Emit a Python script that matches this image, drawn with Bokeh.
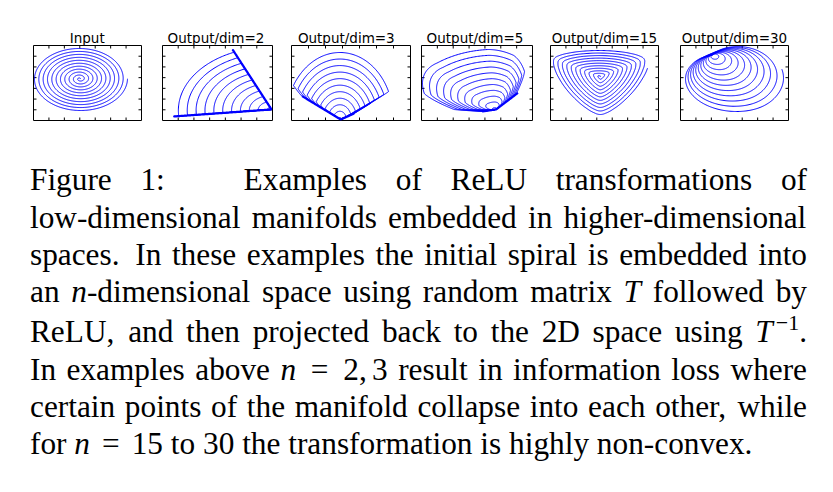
import numpy as np
from bokeh.plotting import figure
from bokeh.models import Range1d, ColumnDataSource
from bokeh.layouts import column, row
from bokeh.core.properties import value
from bokeh.embed import file_html
from bokeh.resources import INLINE

# ---------------- data ----------------
SPIRAL_TURNS = 11
SPIRAL_SAMPLES = 4000
PANEL_TITLES = ["Input", "Output/dim=2", "Output/dim=3", "Output/dim=5",
                "Output/dim=15", "Output/dim=30"]
# rows of the embedding matrix T for each output panel: angle (degrees) and length
ROWS_DIM2 = [204, 96]
ROWS_DIM3 = [60, 115, 75]
SCALE_DIM3 = [1.0, 1.0, 0.7]
ROWS_DIM5 = [40, 90, 130, 160, 185]
ROWS_DIM15 = [0, 15, 30, 45, 60, 120, 135, 150, 165, 180, 240, 255, 270, 285, 300]
ROWS_DIM30 = [-168, -160, -153, -145, -138, -130, -122, -115, -107, -100,
              -92, -84, -77, -69, -62, -54, -46, -39, -31, -24,
              -16, -8, -1, 7, 14, 22, 30, 37, 45, 52]
PANEL_ROWS = [None, ROWS_DIM2, ROWS_DIM3, ROWS_DIM5, ROWS_DIM15, ROWS_DIM30]
PANEL_SCALES = [None, None, SCALE_DIM3, None, None, None]

CAPTION_LINES = [
    "Figure 1: Examples of ReLU transformations of",
    "low-dimensional manifolds embedded in higher-dimensional",
    "spaces. In these examples the initial spiral is embedded into",
    "an $n$-dimensional space using random matrix $T$ followed by",
    "ReLU, and then projected back to the 2D space using $T$^{\u22121}.",
    "In examples above $n$ = 2,~3 result in information loss where",
    "certain points of the manifold collapse into each other, while",
    "for $n$ = 15 to 30 the transformation is highly non-convex.",
]

# ---------------- layout (pixels) ----------------
W, H = 833, 492
BOX_X = [(33, 141), (162, 272), (291, 410), (421, 532), (550, 658), (680, 788)]
BOX_TOP, BOX_BOTTOM = 45, 120
CONTENT = [(34, 127, 48, 110), (173, 271, 49, 116), (293, 388, 52, 119),
           (422, 524, 49, 111), (553, 647, 50, 114), (685, 783, 46, 111)]
FIG_EDGES = [0, 151, 281, 415, 541, 669, 833]
TITLE_X = [86.7, 215.5, 345.8, 474.5, 604, 734]
TITLE_BASE = 41
TITLE_FS = 13.5
PANEL_BOTTOM_BORDER = 8
TICK_LEN = 3
FS = 31.3
LINE_BASE = [188.5, 225.8, 263.1, 300.4, 340.5, 377.8, 415.1, 452.4]
BASELINE_FIX = 0.29   # em; compensates the renderer's baseline placement
TEXT_L, TEXT_R = 29.5, 806.5
BLUE = "#0000ff"


def spiral():
    t = np.linspace(0.0, 1.0, SPIRAL_SAMPLES)
    th = 2 * np.pi * SPIRAL_TURNS * t
    return np.column_stack([t * np.cos(th), t * np.sin(th)])


def relu_roundtrip(X, angles, scales):
    a = np.radians(np.array(angles, dtype=float))
    s = np.ones(len(angles)) if scales is None else np.array(scales, dtype=float)
    T = np.column_stack([np.cos(a), np.sin(a)]) * s[:, None]
    Z = X @ T.T
    Y = np.maximum(Z, 0.0)
    active = (Z > 0).sum(axis=1)
    return Y @ np.linalg.pinv(T).T, active


panels = []
base = spiral()
for i in range(6):
    if PANEL_ROWS[i] is None:
        X, active = base, np.full(len(base), 99)
    else:
        X, active = relu_roundtrip(base, PANEL_ROWS[i], PANEL_SCALES[i])
    xs, ys = X[:, 0], X[:, 1]
    bl, br = BOX_X[i]
    cl, cr, ct, cb = CONTENT[i]
    xmin, xmax, ymin, ymax = xs.min(), xs.max(), ys.min(), ys.max()
    sx = (cr - cl) / (xmax - xmin)
    sy = (cb - ct) / (ymax - ymin)
    x0, x1 = xmin - (cl - bl) / sx, xmax + (br - cr) / sx
    y1, y0 = ymax + (ct - BOX_TOP) / sy, ymin - (BOX_BOTTOM - cb) / sy
    fl, fr = FIG_EDGES[i], FIG_EDGES[i + 1]
    p = figure(width=fr - fl, height=BOX_BOTTOM - BOX_TOP + PANEL_BOTTOM_BORDER,
               x_range=Range1d(x0, x1), y_range=Range1d(y0, y1),
               output_backend="svg", toolbar_location=None, title=None,
               x_axis_location=None, y_axis_location=None,
               min_border_left=bl - fl, min_border_right=fr - br,
               min_border_top=0, min_border_bottom=PANEL_BOTTOM_BORDER)
    p.grid.visible = False
    p.outline_line_color = "black"
    p.outline_line_width = 1
    p.background_fill_color = "white"
    p.border_fill_color = "white"
    # tick marks pointing inwards on all four sides
    dx = (x1 - x0) / (br - bl) * TICK_LEN
    dy = (y1 - y0) / (BOX_BOTTOM - BOX_TOP) * TICK_LEN
    xt = [x0 + (x1 - x0) * k / 7 for k in range(1, 7)]
    yt = [y0 + (y1 - y0) * k / 7 for k in range(1, 7)]
    tx0 = xt + xt + [x0] * 6 + [x1] * 6
    tx1 = xt + xt + [x0 + dx] * 6 + [x1 - dx] * 6
    ty0 = [y0] * 6 + [y1] * 6 + yt + yt
    ty1 = [y0 + dy] * 6 + [y1 - dy] * 6 + yt + yt
    p.segment(x0=tx0, y0=ty0, x1=tx1, y1=ty1, line_color="black", line_width=1)
    p.line(xs, ys, line_color=BLUE, line_width=1.0)
    if PANEL_ROWS[i] is not None:
        collapsed = active <= 1
        p.line(np.where(collapsed, xs, np.nan), np.where(collapsed, ys, np.nan),
               line_color=BLUE, line_width=2.2)
    panels.append(p)

# ---------------- titles ----------------
TITLE_H = BOX_TOP
tfig = figure(width=W, height=TITLE_H, x_range=Range1d(0, W), y_range=Range1d(TITLE_H, 0),
              output_backend="svg", toolbar_location=None, title=None,
              x_axis_location=None, y_axis_location=None, min_border=0)
tfig.grid.visible = False
tfig.outline_line_color = None
tfig.text(x=TITLE_X, y=[TITLE_BASE - BASELINE_FIX * TITLE_FS] * 6, text=PANEL_TITLES,
          text_font=value("DejaVu Sans"), text_font_size=value(f"{TITLE_FS}px"),
          text_align="center", text_baseline="alphabetic", text_color="black")

# ---------------- caption ----------------
ROMAN = {' ': 250, '!': 333, ',': 250, '-': 333, '.': 250, ':': 278, '=': 564,
         '\u2212': 564}
for d in "0123456789":
    ROMAN[d] = 500
ROMAN.update(dict(zip("ABCDEFGHIJKLMNOPQRSTUVWXYZ",
                      [722, 667, 667, 722, 611, 556, 722, 722, 333, 389, 722, 611, 889,
                       722, 722, 556, 722, 667, 556, 611, 722, 722, 944, 722, 722, 611])))
ROMAN.update(dict(zip("abcdefghijklmnopqrstuvwxyz",
                      [444, 500, 444, 500, 444, 333, 500, 500, 278, 278, 500, 278, 778,
                       500, 500, 500, 500, 333, 389, 278, 500, 500, 722, 500, 500, 444])))
ITALIC = {'n': 500, 'T': 556}
SUP = 0.7
SUP_RAISE = 12
ITALIC_CORR = 0.1


def parse_word(w):
    runs, buf, mode, i = [], "", "r", 0

    def flush():
        nonlocal buf
        if buf:
            runs.append((buf, mode))
        buf = ""
    while i < len(w):
        c = w[i]
        if c == "$":
            flush()
            mode = "i" if mode == "r" else "r"
            i += 1
        elif c == "^":
            flush()
            j = w.index("}", i)
            runs.append(("", "corr"))
            runs.append((w[i + 2:j], "sup"))
            i = j + 1
        elif c == "~":
            flush()
            runs.append(("", "gap"))
            i += 1
        else:
            buf += c
            i += 1
    flush()
    return runs


def run_width(text, style):
    if style == "gap":
        return 0.17 * FS
    if style == "corr":
        return ITALIC_CORR * FS
    if style == "i":
        return sum(ITALIC.get(c, 500) for c in text) / 1000 * FS
    size = FS * SUP if style == "sup" else FS
    return sum(ROMAN.get(c, 500) for c in text) / 1000 * size


def gap_weight(word):
    return {".": 3.0, ":": 3.4, ",": 1.25}.get(word[-1], 1.0)


def gap_natural(a, b):
    return (0.385 if "=" in (a, b) else 0.25) * FS


src = {"r": dict(x=[], y=[], text=[]), "i": dict(x=[], y=[], text=[]),
       "sup": dict(x=[], y=[], text=[])}
for li, line in enumerate(CAPTION_LINES):
    words = line.split(" ")
    parsed = [parse_word(w) for w in words]
    widths = [sum(run_width(t, s) for t, s in r) for r in parsed]
    nats = [gap_natural(words[k], words[k + 1]) for k in range(len(words) - 1)]
    weights = [gap_weight(w) for w in words[:-1]]
    total = sum(widths) + sum(nats)
    unit = (TEXT_R - TEXT_L - total) / sum(weights) if li < len(CAPTION_LINES) - 1 else 0.0
    x = TEXT_L
    yb = LINE_BASE[li]
    for k, runs in enumerate(parsed):
        for t, s in runs:
            if s in src:
                size = FS * SUP if s == "sup" else FS
                yy = yb - (SUP_RAISE if s == "sup" else 0) - BASELINE_FIX * size
                src[s]["x"].append(x)
                src[s]["y"].append(yy)
                src[s]["text"].append(t)
            x += run_width(t, s)
        if k < len(nats):
            x += nats[k] + weights[k] * unit

CAP_TOP = BOX_BOTTOM + PANEL_BOTTOM_BORDER
cfig = figure(width=W, height=H - CAP_TOP,
              x_range=Range1d(0, W), y_range=Range1d(H, CAP_TOP),
              output_backend="svg", toolbar_location=None, title=None,
              x_axis_location=None, y_axis_location=None, min_border=0)
cfig.grid.visible = False
cfig.outline_line_color = None
common = dict(text_font=value("Liberation Serif"), text_align="left",
              text_baseline="alphabetic", text_color="black")
cfig.text(x="x", y="y", text="text", source=ColumnDataSource(src["r"]),
          text_font_size=value(f"{FS}px"), **common)
cfig.text(x="x", y="y", text="text", source=ColumnDataSource(src["i"]),
          text_font_size=value(f"{FS}px"), text_font_style="italic", **common)
cfig.text(x="x", y="y", text="text", source=ColumnDataSource(src["sup"]),
          text_font_size=value(f"{FS * SUP:.1f}px"), **common)

layout = column(tfig, row(*panels, spacing=0), cfig, spacing=0)
open("out.html", "w").write(file_html(layout, INLINE))
